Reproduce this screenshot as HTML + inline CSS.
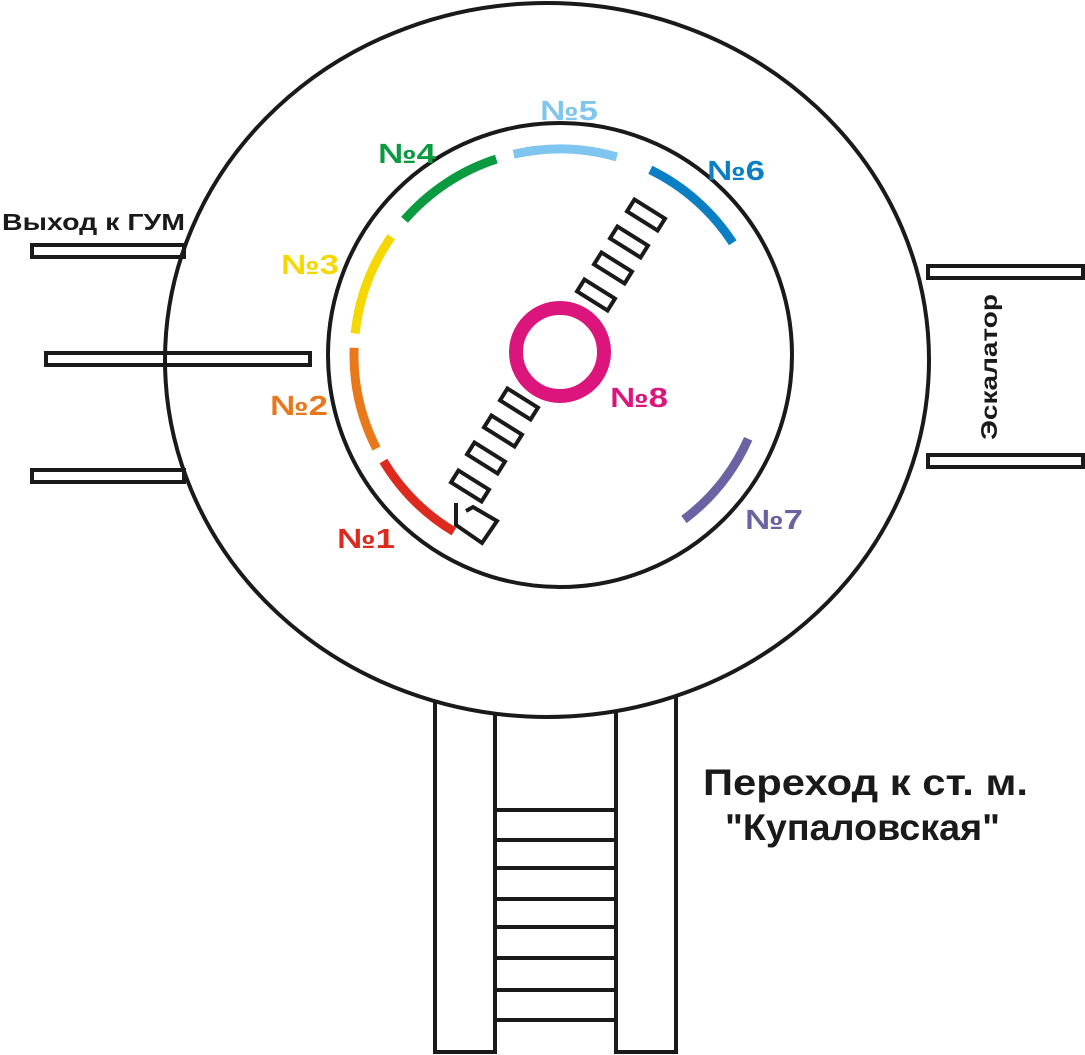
<!DOCTYPE html>
<html><head><meta charset="utf-8"><style>
html,body{margin:0;padding:0;background:#fff;}
svg{display:block;}
text{font-family:"Liberation Sans",sans-serif;font-weight:bold;}
</style></head><body>
<svg id="map" width="1085" height="1055" viewBox="0 0 1085 1055">
<g id="passages" fill="#fff" stroke="#1a1a1a" stroke-width="4">
 <rect x="32" y="245" width="152" height="12"/>
 <rect x="46" y="353" width="264" height="12"/>
 <rect x="32" y="470" width="152" height="12"/>
 <rect x="928" y="266" width="155" height="12"/>
 <rect x="928" y="455" width="155" height="12"/>
</g>
<g id="bottom" fill="none" stroke="#1a1a1a" stroke-width="4"></g>
<ellipse cx="547" cy="360" rx="382" ry="357" fill="none" stroke="#1a1a1a" stroke-width="4"/>
<circle cx="560" cy="355" r="232" fill="#fff" stroke="#1a1a1a" stroke-width="4"/>
<g id="arcs" fill="none" stroke-width="9"></g>
<g id="steps" fill="none" stroke="#1a1a1a" stroke-width="4"></g>
<polyline points="456,503 456,525 482,543 497,521 473,507 466,511" fill="none" stroke="#1a1a1a" stroke-width="4"/>
<circle cx="560" cy="352" r="44" fill="none" stroke="#dc157c" stroke-width="14"/>
<g id="labels" font-size="28"></g>
<text x="2" y="230" font-size="23" textLength="183" lengthAdjust="spacingAndGlyphs" fill="#1a1a1a">Выход к ГУМ</text>
<text transform="translate(997,440) rotate(-90)" font-size="23" textLength="146" lengthAdjust="spacingAndGlyphs" fill="#1a1a1a">Эскалатор</text>
<text x="703" y="795" font-size="37" textLength="325" lengthAdjust="spacingAndGlyphs" fill="#1a1a1a">Переход к ст. м.</text>
<text x="725" y="840" font-size="37" textLength="275" lengthAdjust="spacingAndGlyphs" fill="#1a1a1a">"Купаловская"</text>
</svg>
<script>
const NS='http://www.w3.org/2000/svg';
const exitNames=['exit-1','exit-2','exit-3','exit-4','exit-5','exit-6','exit-7'];
const exitColors=['#dc2a1f','#e8781a','#f5d800','#0a9a3f','#7ec6ef','#0b7fc4','#6a62a3'];
const exitStart=[121,153,186,221,-103,-64,24];
const exitEnd=[149,182,215,252,-74,-33,53];
const labelText=['№1','№2','№3','№4','№5','№6','№7','№8'];
const labelX=[337,270,281,378,540,707,745,610];
const labelY=[548,415,274,163,120,180,529,407];
const labelColor=['#dc2a1f','#e8781a','#f5d800','#0a9a3f','#7ec6ef','#0b7fc4','#6a62a3','#dc157c'];
const stepCenters=[[646,215],[629,242],[613,268],[596,295],[519,404],[503,431],[486,458],[470,486]];
const rungY=[810,840,868,899,927,958,990,1020];
const CX=560,CY=355,R=206;
function pt(a){const r=a*Math.PI/180;return [CX+R*Math.cos(r),CY+R*Math.sin(r)];}
const arcs=document.getElementById('arcs');
exitNames.forEach((n,i)=>{
 const p=document.createElementNS(NS,'path');
 const a=pt(exitStart[i]),b=pt(exitEnd[i]);
 p.setAttribute('d',`M${a[0]},${a[1]} A${R},${R} 0 0 1 ${b[0]},${b[1]}`);
 p.setAttribute('stroke',exitColors[i]);
 
 
 arcs.appendChild(p);
});
const lab=document.getElementById('labels');
labelText.forEach((t,i)=>{
 const e=document.createElementNS(NS,'text');
 e.setAttribute('x',labelX[i]);e.setAttribute('y',labelY[i]);
 e.setAttribute('fill',labelColor[i]);
 e.setAttribute('textLength',58);e.setAttribute('lengthAdjust','spacingAndGlyphs');
 e.textContent=t;
 
 
 lab.appendChild(e);
});
const steps=document.getElementById('steps');
stepCenters.forEach((c,i)=>{
 const r=document.createElementNS(NS,'rect');
 r.setAttribute('x',c[0]-18);r.setAttribute('y',c[1]-7);
 r.setAttribute('width',36);r.setAttribute('height',14);
 r.setAttribute('transform',`rotate(32 ${c[0]} ${c[1]})`);
 
 
 steps.appendChild(r);
});
function ey(x){const t=(x-547)/382;return 360+357*Math.sqrt(Math.max(0,1-t*t));}
const bot=document.getElementById('bottom');
function addPath(d,name){const p=document.createElementNS(NS,'path');p.setAttribute('d',d);
 
 
 bot.appendChild(p);}
addPath(`M435,${ey(435)} V1052 H495 V${ey(495)}`,'transfer-passage-left');
addPath(`M616,${ey(616)} V1052 H676 V${ey(676)}`,'transfer-passage-right');
rungY.forEach(y=>{
 const l=document.createElementNS(NS,'line');
 l.setAttribute('x1',495);l.setAttribute('x2',616);l.setAttribute('y1',y);l.setAttribute('y2',y);
 
 
 bot.appendChild(l);
});
</script>
</body></html>
